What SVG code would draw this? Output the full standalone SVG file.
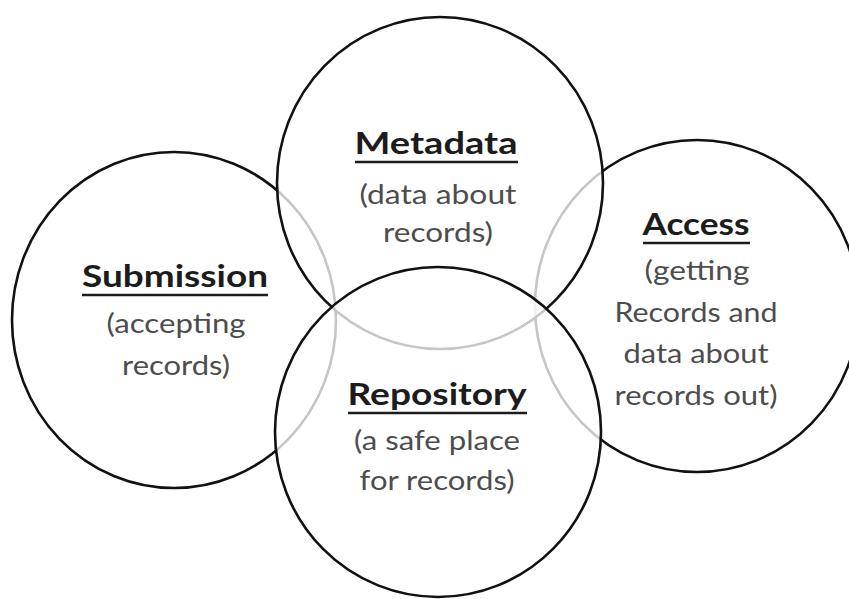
<svg xmlns="http://www.w3.org/2000/svg" width="849" height="599" viewBox="0 0 849 599">
<style>
.c{fill:#ffffff;fill-opacity:0.76;stroke:#111;stroke-width:2.6}
.t{font-family:Lato,"Open Sans","Liberation Sans",sans-serif;font-weight:bold;font-size:31px;fill:#1c1c1c;text-anchor:middle}
.d{font-family:Lato,"Open Sans","Liberation Sans",sans-serif;font-size:27px;fill:#4d4d4d;text-anchor:middle}
.u{stroke:#1c1c1c;stroke-width:2.4}
</style>
<rect width="849" height="599" fill="#ffffff"/>
<g id="submission">
<ellipse class="c" cx="174" cy="320" rx="162" ry="168"/>
<text class="t" x="175" y="287" textLength="186" lengthAdjust="spacingAndGlyphs">Submission</text>
<line class="u" x1="82" y1="295" x2="268" y2="295"/>
<text class="d" x="176" y="333" textLength="139" lengthAdjust="spacingAndGlyphs">(accepting</text>
<text class="d" x="176" y="375" textLength="108" lengthAdjust="spacingAndGlyphs">records)</text>
</g>
<g id="access">
<ellipse class="c" cx="697" cy="306" rx="162" ry="166"/>
<text class="t" x="696" y="235" textLength="107" lengthAdjust="spacingAndGlyphs">Access</text>
<line class="u" x1="643" y1="243" x2="750" y2="243"/>
<text class="d" x="697" y="280" textLength="105" lengthAdjust="spacingAndGlyphs">(getting</text>
<text class="d" x="696" y="322" textLength="163" lengthAdjust="spacingAndGlyphs">Records and</text>
<text class="d" x="696" y="363" textLength="145" lengthAdjust="spacingAndGlyphs">data about</text>
<text class="d" x="696" y="405" textLength="163" lengthAdjust="spacingAndGlyphs">records out)</text>
</g>
<g id="metadata">
<ellipse class="c" cx="440" cy="183" rx="163" ry="166"/>
<text class="t" x="436" y="154" textLength="163" lengthAdjust="spacingAndGlyphs">Metadata</text>
<line class="u" x1="355" y1="162" x2="518" y2="162"/>
<text class="d" x="438" y="204" textLength="157" lengthAdjust="spacingAndGlyphs">(data about</text>
<text class="d" x="438" y="242" textLength="110" lengthAdjust="spacingAndGlyphs">records)</text>
</g>
<g id="repository">
<ellipse class="c" cx="438" cy="432" rx="163" ry="165"/>
<text class="t" x="437" y="405" textLength="179" lengthAdjust="spacingAndGlyphs">Repository</text>
<line class="u" x1="348" y1="413" x2="527" y2="413"/>
<text class="d" x="437" y="450" textLength="166" lengthAdjust="spacingAndGlyphs">(a safe place</text>
<text class="d" x="437" y="490" textLength="155" lengthAdjust="spacingAndGlyphs">for records)</text>
</g>
</svg>
